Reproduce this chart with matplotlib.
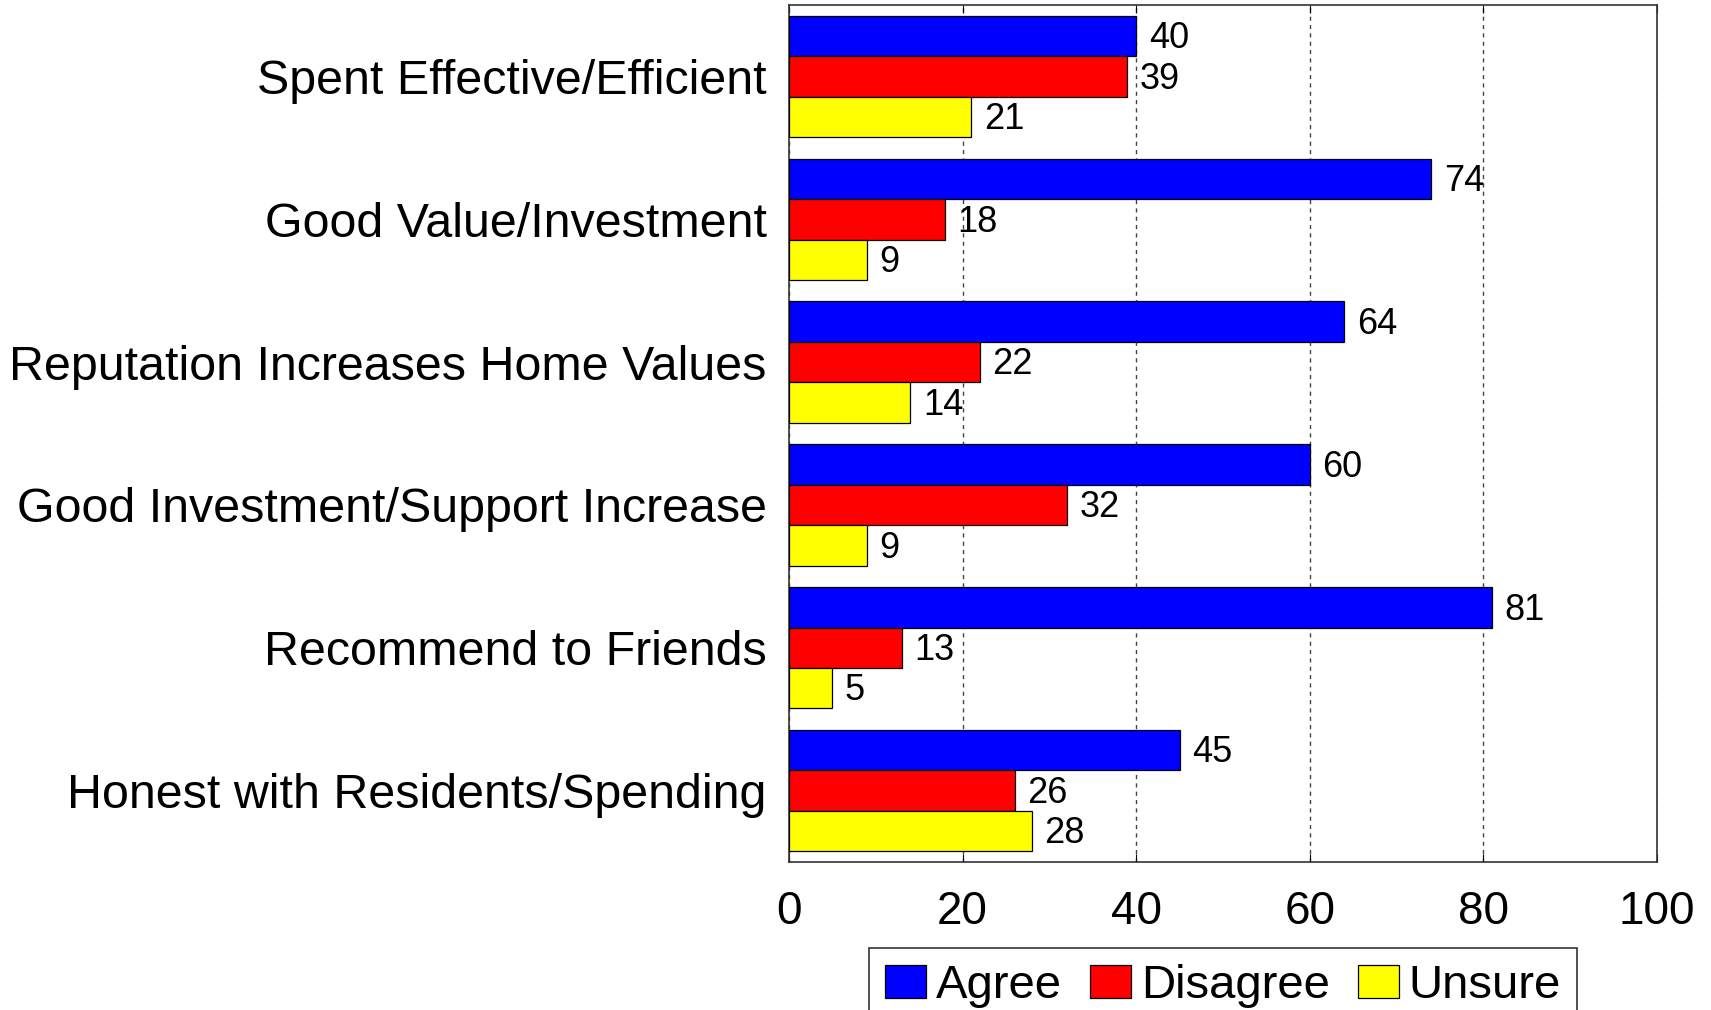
import numpy as np
import matplotlib
matplotlib.use("Agg")
import matplotlib.pyplot as plt

plt.rcParams["font.family"] = ["Liberation Sans", "DejaVu Sans"]

categories = [
    "Spent Effective/Efficient",
    "Good Value/Investment",
    "Reputation Increases Home Values",
    "Good Investment/Support Increase",
    "Recommend to Friends",
    "Honest with Residents/Spending",
]
agree = [40, 74, 64, 60, 81, 45]
disagree = [39, 18, 22, 32, 13, 26]
unsure = [21, 9, 14, 9, 5, 28]

series = [("Agree", agree, "#0000FF"),
          ("Disagree", disagree, "#FF0000"),
          ("Unsure", unsure, "#FFFF00")]

fig = plt.figure(figsize=(17.11, 10.10), dpi=100)
ax = fig.add_axes([0.4611, 0.1465, 0.5073, 0.8485])

y = np.arange(len(categories))
h = 0.283
for i, (name, vals, color) in enumerate(series):
    pos = y + (i - 1) * h
    bars = ax.barh(pos, vals, height=h, color=color, edgecolor="black",
                   linewidth=0.9, label=name, zorder=3)
    for b, v in zip(bars, vals):
        ax.annotate(str(v), (b.get_width(), b.get_y() + b.get_height() / 2),
                    xytext=(9, -2), textcoords="offset points",
                    va="center", ha="left", fontsize=26, zorder=4)

ax.set_xlim(0, 100)
ax.set_ylim(len(categories) - 0.5, -0.5)
ax.set_xticks([0, 20, 40, 60, 80, 100])
ax.set_yticks(y)
ax.set_yticklabels(categories, fontsize=34.8)
ax.tick_params(axis="y", length=0, pad=16)
ax.tick_params(axis="x", labelsize=33, direction="in", length=6, top=True, pad=20)
ax.grid(axis="x", color="#444444", linestyle=(0, (3, 3)), linewidth=1, zorder=0)
for s in ax.spines.values():
    s.set_linewidth(1.2)
    s.set_color("#333333")

leg = ax.legend(loc="upper center", bbox_to_anchor=(0.5, -0.1), ncol=3,
                fontsize=34, frameon=True, fancybox=False, edgecolor="black",
                handlelength=0.87, handleheight=0.68, handletextpad=0.2,
                columnspacing=0.6, borderpad=0.35, borderaxespad=0)
leg.get_frame().set_linewidth(1.2)

fig.savefig("out.png", dpi=100)
